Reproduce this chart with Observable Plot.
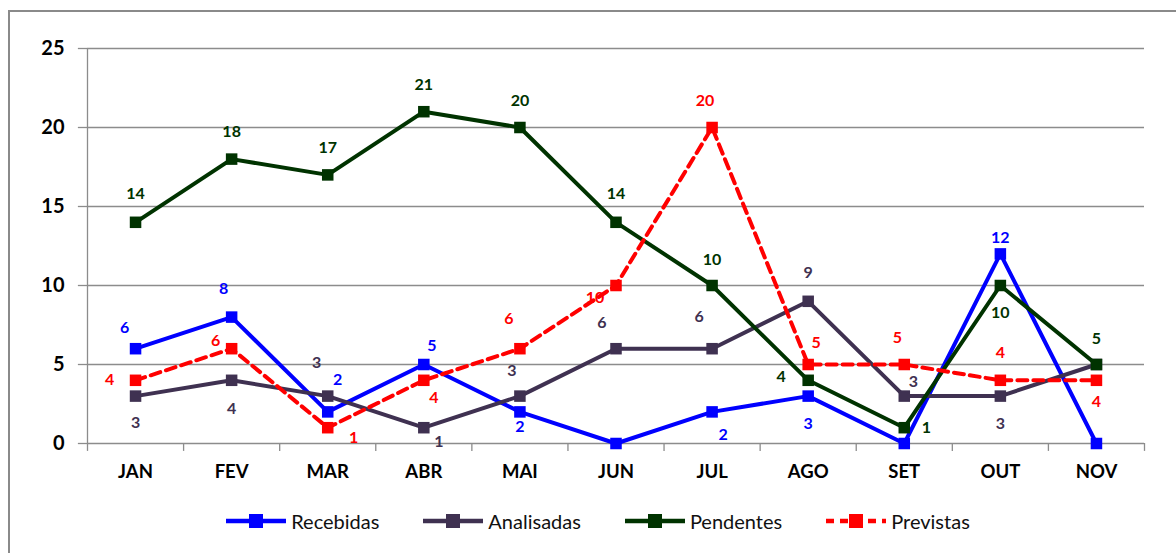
<!DOCTYPE html>
<html><head><meta charset="utf-8">
<script src="https://cdn.jsdelivr.net/npm/d3@7"></script>
<script src="https://cdn.jsdelivr.net/npm/@observablehq/plot@0.6"></script>
<style>
html,body{margin:0;padding:0;background:#fff;}
body{width:1176px;height:553px;position:relative;overflow:hidden;font-family:Lato,"Open Sans",sans-serif;}
#frame{position:absolute;left:8px;top:10px;width:1200px;height:600px;border-left:2px solid #8a8a8a;border-top:2px solid #8a8a8a;box-sizing:border-box;}
#chart{position:absolute;left:0;top:0;}
#legend{position:absolute;left:0;top:509px;width:1194px;display:flex;justify-content:center;gap:42px;font-size:20px;color:#111;}
.item{display:flex;align-items:center;gap:3px;}
</style></head>
<body>
<div id="frame"></div>
<div id="chart"></div>
<div id="legend"></div>
<script>
const months = ["JAN","FEV","MAR","ABR","MAI","JUN","JUL","AGO","SET","OUT","NOV"];
const recebidas  = [6, 8, 2, 5, 2, 0, 2, 3, 0, 12, 0];
const analisadas = [3, 4, 3, 1, 3, 6, 6, 9, 3, 3, 5];
const pendentes  = [14, 18, 17, 21, 20, 14, 10, 4, 1, 10, 5];
const previstas  = [4, 6, 1, 4, 6, 10, 20, 5, 5, 4, 4];
const yTicks = [0, 5, 10, 15, 20, 25];

// label placement (pixel offsets), null = no label
const labelOffsets = {
  Recebidas:  [[-11,-21],[-8,-28],[10,-32],[8,-19],[0,15],null,[11,23],[0,28],null,[0,-16],null],
  Analisadas: [[0,27],[0,29],[-11,-33],[15,14],[-8,-25],[-14,-26],[-13,-32],[0,-28],[9,-14],[0,28],null],
  Pendentes:  [[0,-28],[0,-27],[0,-27],[0,-27],[0,-27],[0,-28],[0,-26],[-27,-3],[22,0],[0,27],[0,-26]],
  Previstas:  [[-26,0],[-16,-8],[26,10],[10,18],[-11,-30],[-21,12],[-7,-27],[8,-22],[-7,-27],[0,-27],[0,22]]
};

const series = [
  {name:"Recebidas", values:recebidas, color:"#0000FF", dash:null},
  {name:"Analisadas", values:analisadas, color:"#3F3151", dash:null},
  {name:"Pendentes", values:pendentes, color:"#003300", dash:null},
  {name:"Previstas", values:previstas, color:"#FF0000", dash:"10,6"}
];

const marks = [];
marks.push(Plot.ruleY(yTicks.filter(d=>d>0), {x1:-0.5, x2:10.5, stroke:"#8c8c8c", strokeWidth:1.3}));
marks.push(Plot.ruleY(yTicks, {x1:-0.595, x2:-0.5, stroke:"#8c8c8c", strokeWidth:1.3, clip:false}));
marks.push(Plot.axisY({ticks: yTicks, tickSize:0, tickPadding:23, fontSize:20, fontWeight:"bold", fill:"#000", anchor:"left", label:null}));
marks.push(Plot.axisX({ticks: d3.range(11), tickFormat: i => months[i], tickSize:0, tickPadding:21, fontSize:18.5, fontWeight:"bold", fill:"#000", anchor:"bottom", label:null}));
marks.push(Plot.ruleX(d3.range(12).map(i=>i-0.5), {y1:0, y2:-0.5, stroke:"#8c8c8c", strokeWidth:1.3, clip:false}));
marks.push(Plot.ruleX([-0.5], {y1:0, y2:25, stroke:"#8c8c8c", strokeWidth:1.3}));
marks.push(Plot.ruleY([0], {x1:-0.5, x2:10.5, stroke:"#8c8c8c", strokeWidth:1.3}));

for (const s of series) {
  const data = s.values.map((v,i)=>({i, v}));
  marks.push(Plot.line(data, {x:"i", y:"v", stroke:s.color, strokeWidth:4, strokeDasharray:s.dash, strokeLinejoin:"round"}));
  marks.push(Plot.dot(data, {x:"i", y:"v", symbol:"square", r:6.5, fill:s.color, stroke:null}));
}
for (const s of series) {
  const data = s.values.map((v,i)=>({i, v, off: labelOffsets[s.name][i]})).filter(d=>d.off);
  for (const d of data) {
    marks.push(Plot.text([d], {x:"i", y:"v", text: d=>String(d.v), dx:d.off[0], dy:d.off[1], fill:s.color, fontSize:16, fontWeight:"bold"}));
  }
}

const plot = Plot.plot({
  width:1176, height:490,
  marginLeft:87, marginRight:32, marginTop:48, marginBottom:47,
  x:{domain:[-0.5,10.5], axis:null},
  y:{domain:[0,25], axis:null},
  style:{fontFamily:"Lato, 'Open Sans', sans-serif", background:"transparent", overflow:"visible"},
  marks
});
document.getElementById("chart").appendChild(plot);

const legend = document.getElementById("legend");
for (const s of series) {
  const item = document.createElement("div");
  item.className = "item";
  const dashAttr = s.dash ? `stroke-dasharray="8,6"` : "";
  item.innerHTML = `<svg width="64" height="18"><line x1="2" y1="9" x2="62" y2="9" stroke="${s.color}" stroke-width="4.5" ${dashAttr}/><rect x="25" y="2" width="14" height="14" fill="${s.color}"/></svg><span>${s.name}</span>`;
  legend.appendChild(item);
}
</script>
</body></html>
